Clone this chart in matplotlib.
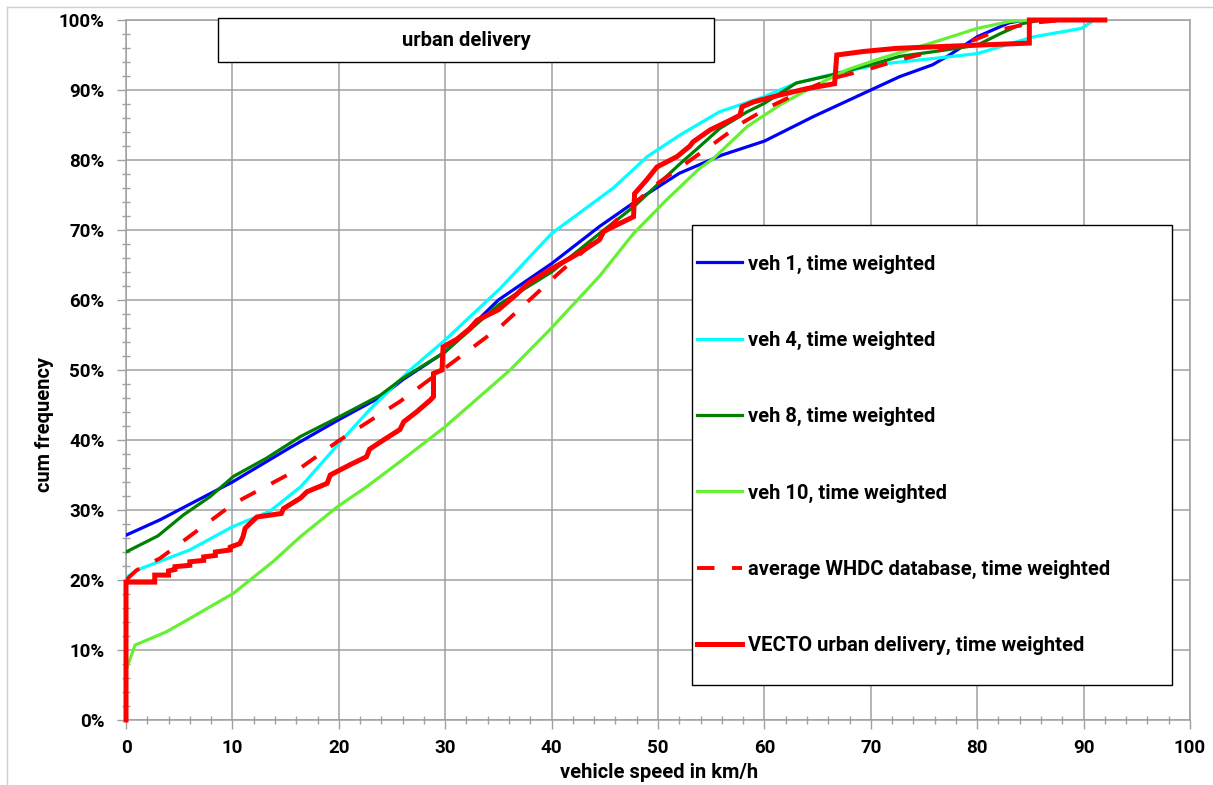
import matplotlib
matplotlib.use("Agg")
import matplotlib.pyplot as plt
from matplotlib.patches import Rectangle
from matplotlib.lines import Line2D
from matplotlib.ticker import MultipleLocator, FuncFormatter

plt.rcParams['font.family'] = ['Roboto', 'DejaVu Sans']
plt.rcParams['font.weight'] = 'bold'

# ---------------- data ----------------
x_ticks = [0, 10, 20, 30, 40, 50, 60, 70, 80, 90, 100]
y_ticks = [0, 10, 20, 30, 40, 50, 60, 70, 80, 90, 100]

veh1_v = [0, 3.2, 10, 15.4, 20, 24, 26, 30, 35, 40, 44.5, 48, 52, 56, 60, 64.6, 70, 72.7, 75.8, 77.4, 80, 83, 84.5, 92]
veh1_p = [26.4, 28.6, 34, 38.9, 42.9, 46.2, 48.6, 52.6, 60, 65.2, 70.5, 74.2, 78.1, 80.7, 82.7, 86.2, 90, 91.9, 93.6, 95, 97.6, 99.6, 100, 100]

veh4_v = [0, 1, 6, 10, 13.5, 16.4, 17, 20, 23, 26.7, 30, 35.2, 40, 45.8, 49, 52.1, 55.8, 59.9, 63, 66.8, 70.9, 76.5, 80, 85.3, 89.8, 91, 92]
veh4_p = [20.3, 21.4, 24.3, 27.6, 29.8, 33.3, 34.3, 39.5, 44.5, 50, 54.3, 61.7, 69.5, 76, 80.5, 83.6, 86.9, 89, 91, 92.4, 93.7, 94.6, 95.2, 97.6, 98.8, 100, 100]

veh8_v = [0, 3, 5.4, 7.9, 10.1, 13.2, 16.4, 19.9, 23.9, 26, 30, 35, 40, 44.5, 47.7, 52.1, 53.9, 55.8, 58.4, 60, 63, 66.5, 70.9, 72.7, 76.5, 80, 82.1, 84.3, 86, 92]
veh8_p = [24, 26.3, 29.3, 31.9, 34.8, 37.4, 40.5, 43.2, 46.4, 48.8, 52.6, 59.3, 64, 69.5, 73.3, 79.5, 81.9, 84.5, 86.9, 88.1, 91, 92.2, 94, 94.8, 95.6, 96.4, 98, 99.5, 100, 100]

veh10_v = [0, 0.85, 3.8, 6, 10.1, 13.8, 16.4, 19.9, 22.6, 25.75, 30, 36.1, 39.8, 44.5, 47.7, 50.8, 53.9, 55.2, 58.4, 61.5, 64.6, 67.8, 70.9, 76.5, 80, 83.1, 85, 92]
veh10_p = [7.1, 10.7, 12.6, 14.5, 18.1, 22.6, 26.2, 30.5, 33.3, 36.9, 41.9, 50, 55.7, 63.4, 69.5, 74.3, 78.8, 80.2, 84.8, 87.9, 90.5, 92.9, 94.5, 97.1, 98.8, 99.8, 100, 100]

whdc_v = [0, 1, 3.2, 10.1, 16.4, 19.9, 25.75, 30, 35.2, 40.5, 44.5, 47.1, 49.9, 52.6, 55.2, 57.9, 60.5, 63.5, 66.5, 69.6, 72.7, 75.8, 79.3, 82.1, 85.3, 88, 92]
whdc_p = [20, 21.4, 23.1, 30.9, 36, 39.8, 45.5, 50.3, 56.2, 63.6, 69, 72.9, 76.6, 79.5, 82.3, 85.3, 87.6, 89.8, 91.7, 92.9, 94.3, 95.5, 96.9, 98.6, 99.6, 100, 100]

vecto_v = [0, 0, 2.7, 2.7, 4.0, 4.0, 4.6, 4.6, 6.0, 6.0, 7.3, 7.3, 8.4, 8.4, 9.8, 9.8, 10.7, 11.0, 11.2, 12.3, 14.6, 14.8, 16.4, 17.0, 18.9, 19.2,
           21.1, 22.6, 22.9, 24.2, 25.75, 26.1, 27.3, 28.6, 28.9, 28.9, 29.7, 29.8, 31.1, 32.3, 33.0, 35.0, 36.7, 37.8, 39.8, 42.7,
           44.5, 44.9, 47.7, 47.8, 48.9, 49.9, 51.8, 53.0, 53.3, 54.9, 56.8, 57.7, 57.9, 59.0, 61.5, 64.0, 66.6, 66.8, 69.3, 72.4,
           76.5, 84.9, 84.9, 92]
vecto_p = [0, 19.7, 19.7, 20.7, 20.7, 21.3, 21.5, 21.9, 22.1, 22.6, 22.8, 23.3, 23.5, 24.0, 24.3, 24.7, 25.2, 26.2, 27.4, 29.0, 29.5, 30.2, 31.7, 32.6, 33.8, 35.0,
           36.5, 37.6, 38.7, 40.0, 41.5, 42.6, 44.0, 45.7, 46.2, 49.5, 50.0, 53.3, 54.4, 55.9, 57.1, 58.6, 60.8, 62.4, 64.3, 66.8,
           68.6, 69.8, 71.9, 75.2, 77.1, 79.0, 80.5, 82.0, 82.6, 84.3, 85.7, 86.4, 87.6, 88.3, 89.3, 90.2, 90.9, 95.0, 95.5, 95.95,
           96.2, 96.7, 100, 100]

labels = ["veh 1, time weighted", "veh 4, time weighted", "veh 8, time weighted",
          "veh 10, time weighted", "average WHDC database, time weighted",
          "VECTO urban delivery, time weighted"]
title_text = "urban delivery"
x_label = "vehicle speed in km/h"
y_label = "cum frequency"

# ---------------- figure ----------------
W, H = 1213, 785
fig = plt.figure(figsize=(W / 100, H / 100), dpi=100)
ax = fig.add_axes([126 / W, 1 - 720 / H, 1064 / W, 700 / H])

FS = 13.5
FSL = 14.5
grid_c = "#a0a0a0"
ax.set_xlim(0, 100)
ax.set_ylim(0, 100)
ax.xaxis.set_minor_locator(MultipleLocator(2))
ax.yaxis.set_minor_locator(MultipleLocator(2))
ax.set_xticks(x_ticks)
ax.set_yticks(y_ticks)
ax.yaxis.set_major_formatter(FuncFormatter(lambda v, p: f"{int(round(v))}%"))
ax.grid(True, which='major', color=grid_c, lw=1.1, zorder=0)
for s in ax.spines.values():
    s.set_color(grid_c)
    s.set_linewidth(1.1)
ax.tick_params(which='major', direction='out', length=6.5, width=1.0, color=grid_c,
               labelsize=FS, pad=7)
ax.tick_params(axis='y', which='major', pad=9)
ax.tick_params(which='minor', direction='inout', length=5.5, width=1.0, color=grid_c)
for t in ax.get_xticklabels() + ax.get_yticklabels():
    t.set_fontweight('bold')

ax.plot(veh1_v, veh1_p, color="#0000ff", lw=2.3, zorder=3, label=labels[0])
ax.plot(veh4_v, veh4_p, color="#00ffff", lw=2.3, zorder=3, label=labels[1])
ax.plot(veh8_v, veh8_p, color="#008000", lw=2.3, zorder=3, label=labels[2])
ax.plot(veh10_v, veh10_p, color="#66f033", lw=2.3, zorder=3, label=labels[3])
ax.plot(whdc_v, whdc_p, color="#ff0000", lw=2.8, ls=(0, (4.5, 4.5)), zorder=4, label=labels[4])
ax.plot(vecto_v, vecto_p, color="#ff0000", lw=3.6, zorder=5, label=labels[5],
        solid_joinstyle='miter', clip_on=False)

# title box
tx0, ty0 = (218 - 126) / 1064, (720 - 62) / 700
ax.add_patch(Rectangle((tx0, ty0), (714 - 218) / 1064, 44 / 700, transform=ax.transAxes,
                       facecolor='white', edgecolor='black', lw=1.0, zorder=8, clip_on=False))
ax.text(tx0 + (714 - 218) / 1064 / 2, ty0 + 22 / 700, title_text, transform=ax.transAxes,
        ha='center', va='center', fontsize=FSL, fontweight='bold', zorder=9)

# legend box
lx0, ly0 = (692 - 126) / 1064, (720 - 685) / 700
ax.add_patch(Rectangle((lx0, ly0), (1172 - 692) / 1064, (685 - 225) / 700, transform=ax.transAxes,
                       facecolor='white', edgecolor='black', lw=1.0, zorder=8))
leg = ax.legend(loc='upper left', bbox_to_anchor=((697 - 126) / 1064, (720 - 254.5) / 700),
                frameon=False, handlelength=2.24, handletextpad=0.3,
                labelspacing=2.84, borderpad=0, borderaxespad=0,
                prop={'weight': 'bold', 'size': FSL})
leg.set_zorder(10)

fig.text(45 / W, 1 - 425 / H, y_label, rotation=90, ha='center', va='center',
         fontsize=FSL, fontweight='bold')
fig.text(659 / W, 1 - 772 / H, x_label, ha='center', va='center',
         fontsize=FSL, fontweight='bold')

# outer chart border (left and top visible)
fig.add_artist(Line2D([7 / W, 7 / W], [0, 1 - 7 / H], transform=fig.transFigure, color="#d0d0d0", lw=1))
fig.add_artist(Line2D([7 / W, 1], [1 - 7 / H, 1 - 7 / H], transform=fig.transFigure, color="#d0d0d0", lw=1))

fig.savefig("out.png", dpi=100, facecolor='white')
